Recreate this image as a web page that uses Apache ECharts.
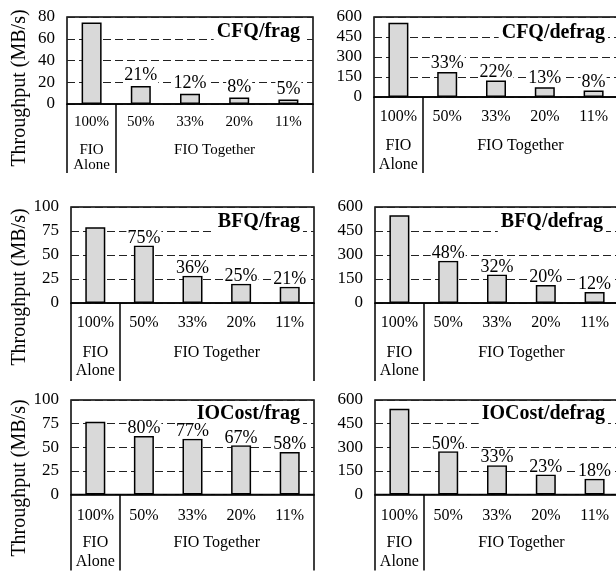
<!DOCTYPE html>
<html><head><meta charset="utf-8">
<script src="https://cdn.jsdelivr.net/npm/echarts@6/dist/echarts.min.js"></script>
<style>html,body{margin:0;padding:0;overflow:hidden;background:#fff}#c{width:630px;height:571px}</style>
</head><body><div id="c"></div>
<script>
const categories = ['100%', '50%', '33%', '20%', '11%'];
const groupLabels = ['', 'FIO\nAlone', '', '', '', '', 'FIO Together', '', '', '', ''];
const yAxisTitle = 'Throughput (MB/s)';

const cfqFrag = [75, 16.5, 9.5, 6, 4.2];
const cfqFragPct = ['', '21%', '12%', '8%', '5%'];
const cfqDefrag = [556, 188, 124, 74, 48];
const cfqDefragPct = ['', '33%', '22%', '13%', '8%'];
const bfqFrag = [79, 60, 28.5, 20, 17];
const bfqFragPct = ['', '75%', '36%', '25%', '21%'];
const bfqDefrag = [548, 264, 178, 112, 68];
const bfqDefragPct = ['', '48%', '32%', '20%', '12%'];
const iocFrag = [77, 62, 59, 52, 45];
const iocFragPct = ['', '80%', '77%', '67%', '58%'];
const iocDefrag = [544, 274, 186, 127, 100];
const iocDefragPct = ['', '50%', '33%', '23%', '18%'];

const FONT = '"Liberation Serif", "Times New Roman", serif';
const W = 630;

const panels = [
  {title: 'CFQ/frag', values: cfqFrag, pcts: cfqFragPct, max: 80, interval: 20, labelDist: 3,
   grid: {left: 67, top: 17, width: 246, height: 87}, catFont: 15, catMargin: 11, grpMargin: 38.5, grpLH: 15, tickLen: 69, titleRight: W - 300 - 3, titleTop: 23},
  {title: 'CFQ/defrag', values: cfqDefrag, pcts: cfqDefragPct, max: 600, interval: 150, labelDist: 1,
   grid: {left: 374, top: 17, width: 244, height: 80}, catFont: 16, catMargin: 12, grpMargin: 39.5, grpLH: 19, tickLen: 76, titleRight: W - 605 - 3, titleTop: 24},
  {title: 'BFQ/frag', values: bfqFrag, pcts: bfqFragPct, max: 100, interval: 25, labelDist: 0,
   grid: {left: 71, top: 207, width: 243, height: 96}, catFont: 16, catMargin: 12, grpMargin: 40.5, grpLH: 18.5, tickLen: 78, titleRight: W - 300 - 3, titleTop: 213},
  {title: 'BFQ/defrag', values: bfqDefrag, pcts: bfqDefragPct, max: 600, interval: 150, labelDist: 0,
   grid: {left: 375, top: 207, width: 244, height: 96}, catFont: 16, catMargin: 12, grpMargin: 40.5, grpLH: 18.5, tickLen: 78, titleRight: W - 603 - 3, titleTop: 213},
  {title: 'IOCost/frag', values: iocFrag, pcts: iocFragPct, max: 100, interval: 25, labelDist: 0,
   grid: {left: 71, top: 400, width: 243, height: 96}, catFont: 16, catMargin: 13, grpMargin: 39.5, grpLH: 18.5, tickLen: 76, titleRight: W - 300 - 3, titleTop: 405},
  {title: 'IOCost/defrag', values: iocDefrag, pcts: iocDefragPct, max: 600, interval: 150, labelDist: 0,
   grid: {left: 375, top: 400, width: 244, height: 96}, catFont: 16, catMargin: 13, grpMargin: 39.5, grpLH: 18.5, tickLen: 76, titleRight: W - 605 - 3, titleTop: 405}
];

const option = {
  animation: false,
  backgroundColor: '#fff',
  title: [], grid: [], xAxis: [], yAxis: [], series: [],
  graphic: [
    {type: 'text', x: 19.5, y: 88, rotation: Math.PI / 2, style: {text: yAxisTitle, font: '20px ' + FONT, fill: '#000', textAlign: 'center', textVerticalAlign: 'middle'}},
    {type: 'text', x: 20, y: 287, rotation: Math.PI / 2, style: {text: yAxisTitle, font: '20px ' + FONT, fill: '#000', textAlign: 'center', textVerticalAlign: 'middle'}},
    {type: 'text', x: 20, y: 478, rotation: Math.PI / 2, style: {text: yAxisTitle, font: '20px ' + FONT, fill: '#000', textAlign: 'center', textVerticalAlign: 'middle'}}
  ]
};

panels.forEach((p, i) => {
  option.grid.push(Object.assign({show: true, borderColor: '#000', borderWidth: 1.5, backgroundColor: 'transparent'}, p.grid));
  option.title.push({
    text: p.title, right: p.titleRight, top: p.titleTop, padding: [0, 3],
    backgroundColor: '#fff',
    textStyle: {fontFamily: FONT, fontWeight: 'bold', fontSize: 20, lineHeight: 18, color: '#000'}
  });
  option.xAxis.push({
    type: 'category', gridIndex: i, data: categories,
    axisLine: {show: true, lineStyle: {color: '#000', width: 1.5}},
    axisTick: {show: false},
    axisLabel: {fontFamily: FONT, fontSize: p.catFont, color: '#000', margin: p.catMargin, interval: 0},
    splitLine: {show: false}
  });
  option.xAxis.push({
    type: 'category', gridIndex: i, data: groupLabels, boundaryGap: false, position: 'bottom',
    axisLine: {show: false},
    axisTick: {show: true, interval: (idx) => idx === 0 || idx === 2 || idx === 10, length: p.tickLen, lineStyle: {color: '#000', width: 1.5}},
    axisLabel: {fontFamily: FONT, fontSize: p.catFont, color: '#000', margin: p.grpMargin, lineHeight: p.grpLH, interval: 0},
    splitLine: {show: false}
  });
  option.yAxis.push({
    type: 'value', gridIndex: i, min: 0, max: p.max, interval: p.interval,
    axisLine: {show: false}, axisTick: {show: false},
    axisLabel: {fontFamily: FONT, fontSize: 17, color: '#000', margin: 12},
    splitLine: {show: true, lineStyle: {type: [8, 4], color: '#222', width: 1.2}}
  });
  option.series.push({
    type: 'bar', xAxisIndex: 2 * i, yAxisIndex: i, data: p.values, barWidth: 20, z: 7,
    itemStyle: {color: '#d9d9d9', borderColor: '#000', borderWidth: 1.5},
    label: {
      show: true, position: 'top', distance: p.labelDist,
      formatter: (d) => p.pcts[d.dataIndex],
      fontFamily: FONT, fontSize: 18, color: '#000', lineHeight: 15,
      backgroundColor: '#fff', padding: [0, 1]
    }
  });
});

const chart = echarts.init(document.getElementById('c'), null, {renderer: 'canvas'});
chart.setOption(option);
</script>
</body></html>
